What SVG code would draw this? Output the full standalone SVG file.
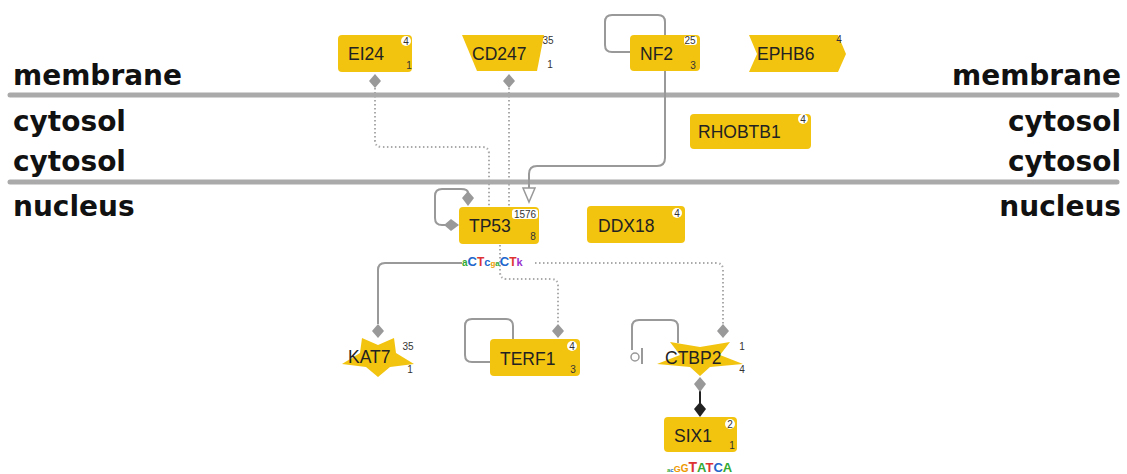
<svg xmlns="http://www.w3.org/2000/svg" width="1127" height="474" viewBox="0 0 1127 474">
<style>
.lane{font-family:"DejaVu Sans",Verdana,sans-serif;font-weight:bold;font-size:28px;fill:#111}
.bar{stroke:#aaa;stroke-width:5;stroke-linecap:round}
.node{fill:#F2C40F}
.lbl{font-family:"Liberation Sans",Arial,sans-serif;font-size:17.5px;fill:#222}
.bd{font-family:"Liberation Sans",Arial,sans-serif;font-size:10px;fill:#333;text-anchor:middle}
.bb{fill:#fff}
.solid{fill:none;stroke:#999;stroke-width:2}
.dot{fill:none;stroke:#aaa;stroke-width:2;stroke-dasharray:1.5 2.5}
.dia{fill:#999}
.m{font-family:"Liberation Sans",Arial,sans-serif;font-weight:bold}
</style>
<g id="lanes">
<line class="bar" x1="10" y1="95" x2="1117" y2="95"/>
<line class="bar" x1="10" y1="182" x2="1117" y2="182"/>
<text class="lane" x="13" y="85">membrane</text>
<text class="lane" x="13" y="131">cytosol</text>
<text class="lane" x="13" y="171">cytosol</text>
<text class="lane" x="13" y="216">nucleus</text>
<text class="lane" x="1121" y="85" text-anchor="end">membrane</text>
<text class="lane" x="1121" y="131" text-anchor="end">cytosol</text>
<text class="lane" x="1121" y="171" text-anchor="end">cytosol</text>
<text class="lane" x="1121" y="216" text-anchor="end">nucleus</text>
</g>
<g id="connectors">
<path class="dot" d="M375,88 V140 Q375,147 382,147 H482 Q489,147 489,154 V207"/>
<polygon class="dia" points="375,74 381,81 375,88 369,81"/>
<path class="dot" d="M509,88 V207"/>
<polygon class="dia" points="509,74 515,81 509,88 503,81"/>
<path class="solid" d="M665,71 V158 Q665,166 657,166 H537 Q529,166 529,174 V188"/>
<polygon points="523,188 535,188 529,202" fill="#fff" stroke="#999" stroke-width="1.5"/>
<path class="solid" d="M631,52 H612 Q605,52 605,45 V22 Q605,15 612,15 H658 Q665,15 665,22 V35"/>
<path class="solid" d="M445,225 H442 Q435,225 435,218 V196 Q435,189 442,189 H461 Q468,189 468,193"/>
<polygon class="dia" points="468,191 474,198 468,206 462,198"/>
<polygon class="dia" points="444,225 451,219 459,225 451,231"/>
<path class="solid" d="M462,263 H385 Q378,263 378,270 V324"/>
<polygon class="dia" points="378,324 384,331 378,338 372,331"/>
<path class="dot" d="M500,245 V272 Q500,279 507,279 H551 Q558,279 558,286 V324"/>
<polygon class="dia" points="558,324 564,331 558,338 552,331"/>
<path class="dot" d="M535,263 H716 Q723,263 723,270 V324"/>
<polygon class="dia" points="723,324 729,331 723,338 717,331"/>
<path class="solid" d="M490,362 H472 Q465,362 465,355 V326 Q465,319 472,319 H506 Q513,319 513,326 V340"/>
<path class="solid" d="M678,343 V327 Q678,320 671,320 H639 Q632,320 632,327 V350"/>
<circle cx="635" cy="357" r="4" fill="#fff" stroke="#999" stroke-width="1.5"/>
<line x1="642" y1="348" x2="642" y2="364" stroke="#999" stroke-width="2"/>
<line x1="700" y1="390" x2="700" y2="404" stroke="#222" stroke-width="2"/>
<polygon class="dia" points="700,377 706,384 700,392 694,384"/>
<polygon points="700,402 706,409 700,417 694,409" fill="#222"/>
</g>
<g id="EI24">
<rect class="node" x="338" y="35" width="74" height="37" rx="4"/>
<text class="lbl" x="348" y="60">EI24</text>
<circle class="bb" cx="406" cy="41" r="5"/>
<text class="bd" x="406" y="44.5">4</text>
<text class="bd" x="409" y="69">1</text>
</g>
<g id="CD247">
<polygon class="node" points="462,35 544,35 537,71 477,71"/>
<text class="lbl" x="472" y="60">CD247</text>
<text class="bd" x="548" y="44" fill="#335">35</text>
<text class="bd" x="550" y="68">1</text>
</g>
<g id="NF2">
<rect class="node" x="630" y="35" width="70" height="36" rx="4"/>
<text class="lbl" x="640" y="60">NF2</text>
<rect class="bb" x="684" y="36" width="13" height="9" rx="3"/>
<text class="bd" x="690" y="44">25</text>
<text class="bd" x="693" y="69">3</text>
</g>
<g id="EPHB6">
<polygon class="node" points="749,35 838,35 846,54 838,72 749,72 757,54"/>
<text class="lbl" x="757" y="60">EPHB6</text>
<text class="bd" x="839" y="43">4</text>
</g>
<g id="RHOBTB1">
<rect class="node" x="690" y="114" width="121" height="35" rx="4"/>
<text class="lbl" x="698" y="138">RHOBTB1</text>
<circle class="bb" cx="803" cy="119" r="5"/>
<text class="bd" x="803" y="122.5">4</text>
</g>
<g id="DDX18">
<rect class="node" x="587" y="206" width="98" height="37" rx="4"/>
<text class="lbl" x="598" y="232">DDX18</text>
<circle class="bb" cx="677" cy="213" r="5"/>
<text class="bd" x="677" y="216.5">4</text>
</g>
<g id="TP53">
<rect class="node" x="459" y="207" width="80" height="37" rx="4"/>
<text class="lbl" x="469" y="232">TP53</text>
<rect class="bb" x="512" y="209" width="26" height="10" rx="3"/>
<text class="bd" x="525" y="217.5">1576</text>
<text class="bd" x="533" y="240">8</text>
<text class="m" x="462" y="266" font-size="10"><tspan fill="#3a3">a</tspan><tspan fill="#26c" font-size="13">C</tspan><tspan fill="#d33" font-size="12">T</tspan><tspan fill="#26c" font-size="11">c</tspan><tspan fill="#e90" font-size="8">g</tspan><tspan fill="#3a3" font-size="8">a</tspan><tspan fill="#26c" font-size="13">C</tspan><tspan fill="#d33" font-size="12">T</tspan><tspan fill="#93c" font-size="11">k</tspan></text>
</g>
<g id="KAT7">
<polygon class="node" points="378,377 366,367 342,364 360,353 362,338 378,345 394,338 396,353 414,364 390,367"/>
<text class="lbl" x="348" y="363">KAT7</text>
<text class="bd" x="408" y="350" fill="#335">35</text>
<text class="bd" x="410" y="373">1</text>
</g>
<g id="TERF1">
<rect class="node" x="490" y="339" width="90" height="37" rx="4"/>
<text class="lbl" x="500" y="365">TERF1</text>
<circle class="bb" cx="572" cy="346" r="5"/>
<text class="bd" x="572" y="349.5">4</text>
<text class="bd" x="573" y="373">3</text>
</g>
<g id="CTBP2">
<polygon class="node" points="700,376 690,367 657,364 680,355 670,342 700,347 730,342 720,355 743,364 710,367"/>
<text class="lbl" x="665" y="364">CTBP2</text>
<text class="bd" x="742" y="350">1</text>
<text class="bd" x="742" y="373">4</text>
</g>
<g id="SIX1">
<rect class="node" x="664" y="417" width="73" height="35" rx="4"/>
<text class="lbl" x="674" y="442">SIX1</text>
<circle class="bb" cx="730" cy="424" r="5"/>
<text class="bd" x="730" y="427.5">2</text>
<text class="bd" x="732" y="449">1</text>
<text class="m" x="667" y="472" font-size="6"><tspan fill="#3a3">a</tspan><tspan fill="#26c">c</tspan><tspan fill="#e90" font-size="9">G</tspan><tspan fill="#e90" font-size="10">G</tspan><tspan fill="#d33" font-size="14">T</tspan><tspan fill="#3a3" font-size="13">A</tspan><tspan fill="#d33" font-size="13">T</tspan><tspan fill="#26c" font-size="13">C</tspan><tspan fill="#3a3" font-size="13">A</tspan></text>
</g>
</svg>
